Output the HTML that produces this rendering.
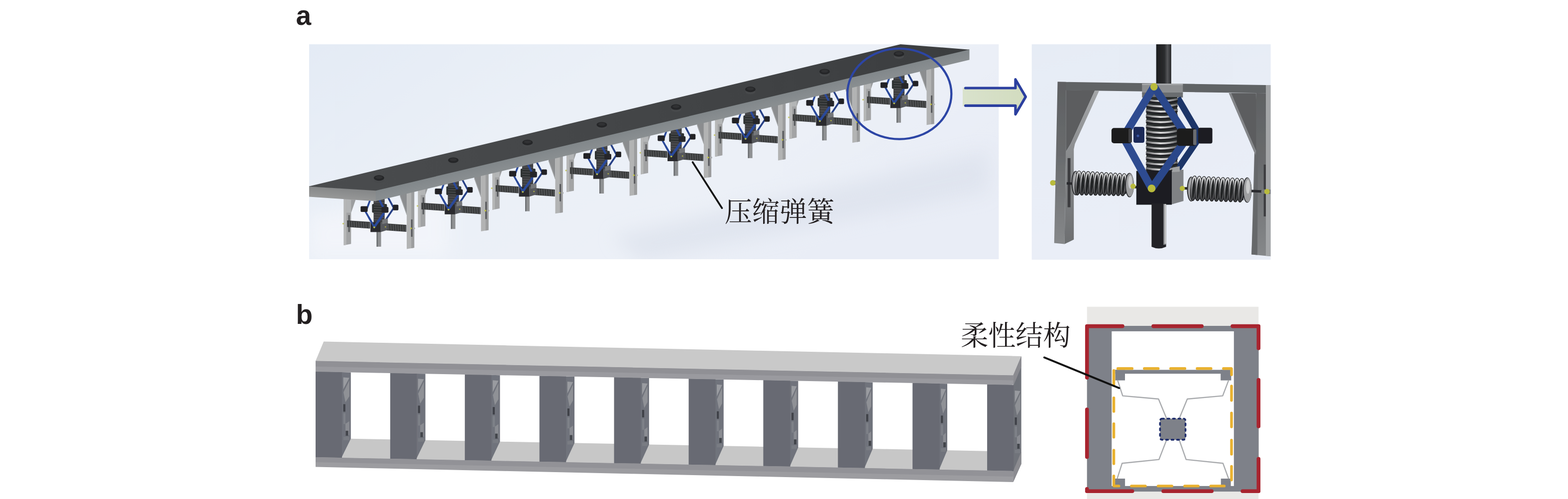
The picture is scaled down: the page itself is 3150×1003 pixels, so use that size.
<!DOCTYPE html>
<html><head><meta charset="utf-8"><title>figure</title>
<style>html,body{margin:0;padding:0;background:#fff}svg{display:block}
.lbl{font-family:"Liberation Sans",sans-serif;font-weight:bold;font-size:55px;fill:#231f20}</style></head>
<body>
<svg width="3150" height="1003" viewBox="0 0 3150 1003">
<defs>
<linearGradient id="abg" x1="0" y1="0" x2="1" y2="0.45"><stop offset="0" stop-color="#e4ebf5"/><stop offset="0.4" stop-color="#ebf0f7"/><stop offset="0.75" stop-color="#ecf0f7"/><stop offset="1" stop-color="#e9edf6"/></linearGradient>
<clipPath id="aclip"><rect x="621" y="89" width="1385.4" height="432"/></clipPath>
<filter id="bl20" x="-20%" y="-50%" width="140%" height="200%"><feGaussianBlur stdDeviation="18"/></filter>
<filter id="bl1"><feGaussianBlur stdDeviation="0.7"/></filter>
<g id="unit"><polygon points="-70.8,20 -56.1,20 -56.1,132.6 -70.8,135.3" fill="#a2a3a4" /><polygon points="-70.8,20 -65.6,20 -65.6,134.4 -70.8,135.3" fill="#b6b7b7" /><polygon points="-65.6,30 -45,30 -47.3,44.6 -56.1,70 -65.6,70" fill="#b3b5b6" /><polygon points="-56.1,44 -47.3,44.6 -56.1,70" fill="#9b9d9f" /><rect x="-61.8" y="74.7" width="3.2" height="34.1" fill="#5a5c5e" /><polygon points="42.3,20 55.7,20 55.7,74.7 42.3,37.5" fill="#8b8d8f" /><polygon points="42.3,37.5 43.6,37.1 55.7,71 55.7,74.7" fill="#a3a5a6" /><polygon points="55.7,20 70.8,20 70.8,140.5 55.7,142.9" fill="#b2b3b3" /><polygon points="64.9,20 70.8,20 70.8,140.5 64.9,141.4" fill="#9c9d9e" /><rect x="64.3" y="83.5" width="3" height="34.8" fill="#55575a" /><polygon points="-64,85.5 -18,88.5 -18,102 -64,98.7" fill="#3b3c3e" /><polygon points="6.6,91 55,94.5 55,108.5 6.6,105" fill="#3b3c3e" /><line x1="-60" y1="87" x2="-59.2" y2="99" stroke="#626466" stroke-width="1.1" /><line x1="-55.2" y1="87.3" x2="-54.4" y2="99.3" stroke="#626466" stroke-width="1.1" /><line x1="-50.4" y1="87.7" x2="-49.6" y2="99.7" stroke="#626466" stroke-width="1.1" /><line x1="-45.6" y1="88" x2="-44.8" y2="100" stroke="#626466" stroke-width="1.1" /><line x1="-40.8" y1="88.3" x2="-40" y2="100.3" stroke="#626466" stroke-width="1.1" /><line x1="-36" y1="88.7" x2="-35.2" y2="100.7" stroke="#626466" stroke-width="1.1" /><line x1="-31.2" y1="89" x2="-30.4" y2="101" stroke="#626466" stroke-width="1.1" /><line x1="-26.4" y1="89.3" x2="-25.6" y2="101.3" stroke="#626466" stroke-width="1.1" /><line x1="-21.6" y1="89.6" x2="-20.8" y2="101.6" stroke="#626466" stroke-width="1.1" /><line x1="14" y1="92.5" x2="14.8" y2="105" stroke="#626466" stroke-width="1.1" /><line x1="18.8" y1="92.9" x2="19.6" y2="105.4" stroke="#626466" stroke-width="1.1" /><line x1="23.6" y1="93.2" x2="24.4" y2="105.7" stroke="#626466" stroke-width="1.1" /><line x1="28.4" y1="93.6" x2="29.2" y2="106.1" stroke="#626466" stroke-width="1.1" /><line x1="33.2" y1="93.9" x2="34" y2="106.4" stroke="#626466" stroke-width="1.1" /><line x1="38" y1="94.3" x2="38.8" y2="106.8" stroke="#626466" stroke-width="1.1" /><line x1="42.8" y1="94.7" x2="43.6" y2="107.2" stroke="#626466" stroke-width="1.1" /><line x1="47.6" y1="95" x2="48.4" y2="107.5" stroke="#626466" stroke-width="1.1" /><line x1="52.4" y1="95.4" x2="53.2" y2="107.9" stroke="#626466" stroke-width="1.1" /><rect x="-4.8" y="106" width="9" height="32.2" fill="#8f9193" /><rect x="-4.8" y="106" width="2.4" height="32.2" fill="#6b6d6f" /><rect x="-10.9" y="25" width="22.2" height="65" fill="#3d3e40" /><rect x="-14" y="52.5" width="30" height="17.5" fill="#2f3032" rx="2"/><line x1="-10.5" y1="44" x2="11" y2="44.8" stroke="#5a5b5d" stroke-width="1" /><line x1="-10.5" y1="49" x2="11" y2="49.8" stroke="#5a5b5d" stroke-width="1" /><line x1="-10.5" y1="54" x2="11" y2="54.8" stroke="#5a5b5d" stroke-width="1" /><line x1="-10.5" y1="59" x2="11" y2="59.8" stroke="#5a5b5d" stroke-width="1" /><line x1="-10.5" y1="64" x2="11" y2="64.8" stroke="#5a5b5d" stroke-width="1" /><line x1="-10.5" y1="69" x2="11" y2="69.8" stroke="#5a5b5d" stroke-width="1" /><line x1="-10.5" y1="74" x2="11" y2="74.8" stroke="#5a5b5d" stroke-width="1" /><line x1="-10.5" y1="79" x2="11" y2="79.8" stroke="#5a5b5d" stroke-width="1" /><line x1="-10.5" y1="84" x2="11" y2="84.8" stroke="#5a5b5d" stroke-width="1" /><polyline points="-1.4,40 9.7,62" fill="none" stroke="#2b4a9a" stroke-width="4" /><polyline points="-15.5,38 -26.7,68.4 -9.6,98.5" fill="none" stroke="#2b4a9a" stroke-width="3.6" stroke-linejoin="round"/><polyline points="16.5,36 29.6,60.5 13.7,84.2" fill="none" stroke="#253f86" stroke-width="3.6" stroke-linejoin="round"/><rect x="-37" y="57" width="14.2" height="11.4" fill="#222325" rx="2"/><rect x="28" y="54" width="11" height="11.2" fill="#222325" rx="2"/><rect x="5" y="58.5" width="14" height="11.5" fill="#27282a" rx="2"/><polygon points="3.4,89 17.7,85.8 17.7,104.5 3.4,108.8" fill="#56585b" /><polygon points="6.5,84 17.7,81.5 17.7,90.5 6.5,93" fill="#75777a" /><rect x="-17.2" y="89" width="20.6" height="19.8" fill="#2b2c2e" /><polyline points="-9.6,98.5 9,72.4" fill="none" stroke="#2b4a9a" stroke-width="4.8" stroke-linecap="round"/><polyline points="-20.5,79.3 -9.6,98.5" fill="none" stroke="#2b4a9a" stroke-width="3.6" stroke-linecap="round"/><circle cx="-71.9" cy="91.9" r="1.6" fill="#bfc043" opacity="0.8"/><circle cx="-9.6" cy="99.3" r="1.8" fill="#bfc043" /><circle cx="12.9" cy="98.5" r="1.4" fill="#bfc043" opacity="0.8"/><circle cx="64.5" cy="101.4" r="1.8" fill="#bfc043" /><rect x="67.5" y="99.6" width="5" height="3.6" fill="#a9abad" rx="1.5"/></g>
<linearGradient id="ptop" gradientUnits="userSpaceOnUse" x1="621" y1="380" x2="1950" y2="95"><stop offset="0" stop-color="#4a4c4e"/><stop offset="0.5" stop-color="#434547"/><stop offset="1" stop-color="#3b3d3f"/></linearGradient>
<linearGradient id="pside" gradientUnits="userSpaceOnUse" x1="1350" y1="241.7" x2="1354.95" y2="262.5"><stop offset="0" stop-color="#81878a"/><stop offset="0.5" stop-color="#868b8e"/><stop offset="1" stop-color="#8a8f91"/></linearGradient>
<linearGradient id="pfront" gradientUnits="userSpaceOnUse" x1="690" y1="380" x2="688" y2="401"><stop offset="0" stop-color="#868889"/><stop offset="1" stop-color="#979898"/></linearGradient>
<linearGradient id="arf" x1="0" y1="0" x2="1" y2="0"><stop offset="0" stop-color="#d9e2cc"/><stop offset="1" stop-color="#d2dcbf"/></linearGradient>
<linearGradient id="rbg" x1="0" y1="0" x2="0.3" y2="1"><stop offset="0" stop-color="#e6ecf5"/><stop offset="1" stop-color="#eaeef7"/></linearGradient>
<clipPath id="rclip"><rect x="2072.7" y="89" width="480" height="433"/></clipPath>
<linearGradient id="rod" x1="0" y1="0" x2="1" y2="0"><stop offset="0" stop-color="#1d1e20"/><stop offset="0.55" stop-color="#2a2b2d"/><stop offset="0.75" stop-color="#55575a"/><stop offset="1" stop-color="#242527"/></linearGradient>
<linearGradient id="legf" x1="0" y1="0" x2="0" y2="1"><stop offset="0" stop-color="#5e6062"/><stop offset="0.45" stop-color="#696b6d"/><stop offset="1" stop-color="#86888a"/></linearGradient>
<linearGradient id="legi" x1="0" y1="0" x2="0" y2="1"><stop offset="0" stop-color="#a3a5a7"/><stop offset="0.4" stop-color="#8b8d8f"/><stop offset="1" stop-color="#6c6e70"/></linearGradient>
<linearGradient id="coil" gradientUnits="userSpaceOnUse" x1="2302" y1="0" x2="2366" y2="0"><stop offset="0" stop-color="#6a6b6d"/><stop offset="0.45" stop-color="#dcdcdd"/><stop offset="0.7" stop-color="#b9babb"/><stop offset="1" stop-color="#5c5d5f"/></linearGradient>
<linearGradient id="hcoil" x1="0" y1="0" x2="0" y2="1"><stop offset="0" stop-color="#d6d7d8"/><stop offset="0.3" stop-color="#a3a4a6"/><stop offset="0.6" stop-color="#6f7072"/><stop offset="1" stop-color="#3a3b3d"/></linearGradient>
<linearGradient id="rail" x1="0" y1="0" x2="0" y2="1"><stop offset="0" stop-color="#8d8d92"/><stop offset="1" stop-color="#9d9da1"/></linearGradient>
<linearGradient id="brail" x1="0" y1="0" x2="0" y2="1"><stop offset="0" stop-color="#8f8f94"/><stop offset="0.55" stop-color="#97979b"/><stop offset="1" stop-color="#a3a3a6"/></linearGradient>
</defs>
<text class="lbl" x="594.6" y="50.3">a</text>
<text class="lbl" x="594.6" y="651">b</text>
<rect x="621" y="89" width="1385.4" height="432" fill="url(#abg)" />
<g clip-path="url(#aclip)">
<polygon points="1230,475 1985,305 1985,385 1290,525" fill="#d9dfea" filter="url(#bl20)" opacity="0.6"/>
<polygon points="621,430 900,400 900,520 621,520" fill="#f4f6fb" filter="url(#bl20)" opacity="0.8"/>
<g filter="url(#bl1)">
<use href="#unit" x="1805.8" y="108.4"/>
<use href="#unit" x="1656.6" y="144"/>
<use href="#unit" x="1507.4" y="179.6"/>
<use href="#unit" x="1358.2" y="215.2"/>
<use href="#unit" x="1209" y="250.8"/>
<use href="#unit" x="1059.8" y="286.4"/>
<use href="#unit" x="910.6" y="322"/>
<use href="#unit" x="761.4" y="357.6"/>
</g>
<polygon points="754,382.5 1947.5,98.9 1947.5,120.2 754,404.4" fill="url(#pside)" />
<polygon points="610,373.8 621,374.5 754.8,382.6 754.8,404.4 621,395.6 610,394.9" fill="url(#pfront)" />
<polygon points="610,377 621,374.4 1809,89 1947.3,99.7 754.8,383.2 621,375.1 610,375" fill="url(#ptop)" />
<ellipse cx="761.4" cy="362.6" rx="10" ry="5" fill="#47494b" />
<ellipse cx="761.4" cy="357.6" rx="10.5" ry="5.6" fill="#252628" />
<ellipse cx="761.4" cy="356.4" rx="7" ry="3" fill="#303133" />
<ellipse cx="910.6" cy="327" rx="10" ry="5" fill="#47494b" />
<ellipse cx="910.6" cy="322" rx="10.5" ry="5.6" fill="#252628" />
<ellipse cx="910.6" cy="320.8" rx="7" ry="3" fill="#303133" />
<ellipse cx="1059.8" cy="291.4" rx="10" ry="5" fill="#47494b" />
<ellipse cx="1059.8" cy="286.4" rx="10.5" ry="5.6" fill="#252628" />
<ellipse cx="1059.8" cy="285.2" rx="7" ry="3" fill="#303133" />
<ellipse cx="1209" cy="255.8" rx="10" ry="5" fill="#47494b" />
<ellipse cx="1209" cy="250.8" rx="10.5" ry="5.6" fill="#252628" />
<ellipse cx="1209" cy="249.6" rx="7" ry="3" fill="#303133" />
<ellipse cx="1358.2" cy="220.2" rx="10" ry="5" fill="#47494b" />
<ellipse cx="1358.2" cy="215.2" rx="10.5" ry="5.6" fill="#252628" />
<ellipse cx="1358.2" cy="214" rx="7" ry="3" fill="#303133" />
<ellipse cx="1507.4" cy="184.6" rx="10" ry="5" fill="#47494b" />
<ellipse cx="1507.4" cy="179.6" rx="10.5" ry="5.6" fill="#252628" />
<ellipse cx="1507.4" cy="178.4" rx="7" ry="3" fill="#303133" />
<ellipse cx="1656.6" cy="149" rx="10" ry="5" fill="#47494b" />
<ellipse cx="1656.6" cy="144" rx="10.5" ry="5.6" fill="#252628" />
<ellipse cx="1656.6" cy="142.8" rx="7" ry="3" fill="#303133" />
<ellipse cx="1805.8" cy="113.4" rx="10" ry="5" fill="#47494b" />
<ellipse cx="1805.8" cy="108.4" rx="10.5" ry="5.6" fill="#252628" />
<ellipse cx="1805.8" cy="107.2" rx="7" ry="3" fill="#303133" />
</g>
<ellipse cx="1806.8" cy="188.7" rx="104.5" ry="91" fill="none" stroke="#2c45a5" stroke-width="4.3"/>
<path d="M1934 176 H2040 V159.7 L2060.5 194.6 L2040 229.8 V213.6 H1934 Z" fill="url(#arf)"/>
<path d="M1939.5 177 H2040 V159.7 L2060.5 194.6 L2040 229.8 V212.3 H1939.5" fill="none" stroke="#2b3f9f" stroke-width="5.2" stroke-linejoin="round" stroke-linecap="round"/>
<line x1="1391.5" y1="326" x2="1450.4" y2="418.3" stroke="#111" stroke-width="3.6" stroke-linecap="round"/>
<text x="1455.8" y="444.6" font-size="55.2" fill="#231f20" style="font-family:'Liberation Serif','Noto Serif CJK SC',serif">压缩弹簧</text>
<rect x="2072.7" y="89" width="480" height="433" fill="url(#rbg)" />
<g clip-path="url(#rclip)"><g filter="url(#bl1)">
<rect x="2322.7" y="80" width="30.2" height="90" fill="url(#rod)" />
<polygon points="2124.6,164.5 2543,171 2543,187.3 2522.6,187 2141.3,181.5" fill="#616365" />
<polygon points="2124.6,164.5 2141.3,164.8 2141.3,300 2138.7,490.5 2117.8,488.4" fill="url(#legf)" />
<polygon points="2141.3,181 2199.5,182 2151,289 2142,304 2141.3,304" fill="#5b5d5f" />
<polygon points="2199.5,182 2208.2,182.2 2159.5,289 2157.2,300 2157.2,481.5 2138.7,490.5 2141,304 2142,304 2151,289" fill="url(#legi)" />
<rect x="2144.7" y="317.8" width="5.8" height="98.8" fill="#3d3e40" />
<polygon points="2523.4,187 2543,187.3 2543,171 2560,171 2560,516 2514.2,511.6" fill="url(#legf)" />
<polygon points="2523.4,300 2527,300 2526,512.5 2514.2,511.6 2522.7,312" fill="#66686a" />
<polygon points="2543,171 2560,171 2560,516 2543,514" fill="#a3a5a7" />
<polygon points="2468.7,187 2523.4,187.3 2523.4,300 2522.5,312.3" fill="#5b5d5f" />
<polygon points="2468.7,187 2473.5,187 2523.4,303 2522.5,312.3" fill="#85878a" />
<rect x="2538.7" y="330.8" width="4.3" height="104.2" fill="#3d3e40" />
<rect x="2294.3" y="168" width="82" height="20.5" fill="#8c8e90" />
<rect x="2294.3" y="186" width="82" height="10" fill="#6b6d6f" />
<rect x="2294.3" y="168" width="82" height="3" fill="#a5a7a9" />
<polyline points="2366,197 2411,274 2364,343" fill="none" stroke="#1e3468" stroke-width="13" stroke-linejoin="miter"/>
<line x1="2115" y1="367.3" x2="2122" y2="367.6" stroke="#77797b" stroke-width="9" stroke-linecap="round"/>
<line x1="2143" y1="368.5" x2="2284" y2="376.2" stroke="#2a2b2d" stroke-width="5" />
<line x1="2374" y1="378.2" x2="2540" y2="385" stroke="#2a2b2d" stroke-width="5" />
<line x1="2538" y1="385" x2="2552" y2="385.4" stroke="#77797b" stroke-width="9" stroke-linecap="round"/>
<rect x="2303" y="195" width="62" height="150" fill="#2c2d2f" />
<path d="M2302 200 Q2334 207 2366 199" fill="none" stroke="url(#coil)" stroke-width="3.8"/>
<path d="M2302 203.6 Q2334 210.6 2366 202.6" fill="none" stroke="#1e1f21" stroke-width="2.2"/>
<path d="M2302 210.6 Q2334 217.6 2366 209.6" fill="none" stroke="url(#coil)" stroke-width="3.8"/>
<path d="M2302 214.2 Q2334 221.2 2366 213.2" fill="none" stroke="#1e1f21" stroke-width="2.2"/>
<path d="M2302 221.2 Q2334 228.2 2366 220.2" fill="none" stroke="url(#coil)" stroke-width="3.8"/>
<path d="M2302 224.8 Q2334 231.8 2366 223.8" fill="none" stroke="#1e1f21" stroke-width="2.2"/>
<path d="M2302 231.8 Q2334 238.8 2366 230.8" fill="none" stroke="url(#coil)" stroke-width="3.8"/>
<path d="M2302 235.4 Q2334 242.4 2366 234.4" fill="none" stroke="#1e1f21" stroke-width="2.2"/>
<path d="M2302 242.4 Q2334 249.4 2366 241.4" fill="none" stroke="url(#coil)" stroke-width="3.8"/>
<path d="M2302 246 Q2334 253 2366 245" fill="none" stroke="#1e1f21" stroke-width="2.2"/>
<path d="M2302 253 Q2334 260 2366 252" fill="none" stroke="url(#coil)" stroke-width="3.8"/>
<path d="M2302 256.6 Q2334 263.6 2366 255.6" fill="none" stroke="#1e1f21" stroke-width="2.2"/>
<path d="M2302 263.6 Q2334 270.6 2366 262.6" fill="none" stroke="url(#coil)" stroke-width="3.8"/>
<path d="M2302 267.2 Q2334 274.2 2366 266.2" fill="none" stroke="#1e1f21" stroke-width="2.2"/>
<path d="M2302 274.2 Q2334 281.2 2366 273.2" fill="none" stroke="url(#coil)" stroke-width="3.8"/>
<path d="M2302 277.8 Q2334 284.8 2366 276.8" fill="none" stroke="#1e1f21" stroke-width="2.2"/>
<path d="M2302 284.8 Q2334 291.8 2366 283.8" fill="none" stroke="url(#coil)" stroke-width="3.8"/>
<path d="M2302 288.4 Q2334 295.4 2366 287.4" fill="none" stroke="#1e1f21" stroke-width="2.2"/>
<path d="M2302 295.4 Q2334 302.4 2366 294.4" fill="none" stroke="url(#coil)" stroke-width="3.8"/>
<path d="M2302 299 Q2334 306 2366 298" fill="none" stroke="#1e1f21" stroke-width="2.2"/>
<path d="M2302 306 Q2334 313 2366 305" fill="none" stroke="url(#coil)" stroke-width="3.8"/>
<path d="M2302 309.6 Q2334 316.6 2366 308.6" fill="none" stroke="#1e1f21" stroke-width="2.2"/>
<path d="M2302 316.6 Q2334 323.6 2366 315.6" fill="none" stroke="url(#coil)" stroke-width="3.8"/>
<path d="M2302 320.2 Q2334 327.2 2366 319.2" fill="none" stroke="#1e1f21" stroke-width="2.2"/>
<path d="M2302 327.2 Q2334 334.2 2366 326.2" fill="none" stroke="url(#coil)" stroke-width="3.8"/>
<path d="M2302 330.8 Q2334 337.8 2366 329.8" fill="none" stroke="#1e1f21" stroke-width="2.2"/>
<path d="M2302 337.8 Q2334 344.8 2366 336.8" fill="none" stroke="url(#coil)" stroke-width="3.8"/>
<path d="M2302 341.4 Q2334 348.4 2366 340.4" fill="none" stroke="#1e1f21" stroke-width="2.2"/>
<rect x="2407" y="256.7" width="28.6" height="31.7" fill="#1b1d24" rx="4"/>
<rect x="2277" y="255" width="22" height="32" fill="#1b2a58" rx="4"/>
<circle cx="2286" cy="273" r="2.6" fill="#3a55a0" />
<ellipse cx="2161" cy="368" rx="8.5" ry="24.5" fill="#2a2b2d" /><ellipse cx="2161.8" cy="368" rx="7.3" ry="23.3" fill="#9d9ea0" /><ellipse cx="2162.6" cy="361.9" rx="3.8" ry="13.5" fill="#c9cacb" />
<polygon points="2162,347.3 2262,352.8 2262,389.8 2162,388.3" fill="#242527" /><ellipse cx="2166" cy="367.8" rx="4" ry="22.3" fill="none" stroke="#1c1d1f" stroke-width="5.4" transform="rotate(5 2166 367.8)"/><ellipse cx="2166" cy="367.8" rx="4" ry="22.3" fill="none" stroke="url(#hcoil)" stroke-width="3" transform="rotate(5 2166 367.8)"/><ellipse cx="2175.1" cy="368.2" rx="4" ry="22.1" fill="none" stroke="#1c1d1f" stroke-width="5.4" transform="rotate(5 2175.1 368.2)"/><ellipse cx="2175.1" cy="368.2" rx="4" ry="22.1" fill="none" stroke="url(#hcoil)" stroke-width="3" transform="rotate(5 2175.1 368.2)"/><ellipse cx="2184.2" cy="368.5" rx="4" ry="21.9" fill="none" stroke="#1c1d1f" stroke-width="5.4" transform="rotate(5 2184.2 368.5)"/><ellipse cx="2184.2" cy="368.5" rx="4" ry="21.9" fill="none" stroke="url(#hcoil)" stroke-width="3" transform="rotate(5 2184.2 368.5)"/><ellipse cx="2193.3" cy="368.9" rx="4" ry="21.7" fill="none" stroke="#1c1d1f" stroke-width="5.4" transform="rotate(5 2193.3 368.9)"/><ellipse cx="2193.3" cy="368.9" rx="4" ry="21.7" fill="none" stroke="url(#hcoil)" stroke-width="3" transform="rotate(5 2193.3 368.9)"/><ellipse cx="2202.4" cy="369.2" rx="4" ry="21.5" fill="none" stroke="#1c1d1f" stroke-width="5.4" transform="rotate(5 2202.4 369.2)"/><ellipse cx="2202.4" cy="369.2" rx="4" ry="21.5" fill="none" stroke="url(#hcoil)" stroke-width="3" transform="rotate(5 2202.4 369.2)"/><ellipse cx="2211.5" cy="369.6" rx="4" ry="21.3" fill="none" stroke="#1c1d1f" stroke-width="5.4" transform="rotate(5 2211.5 369.6)"/><ellipse cx="2211.5" cy="369.6" rx="4" ry="21.3" fill="none" stroke="url(#hcoil)" stroke-width="3" transform="rotate(5 2211.5 369.6)"/><ellipse cx="2220.6" cy="369.9" rx="4" ry="21.1" fill="none" stroke="#1c1d1f" stroke-width="5.4" transform="rotate(5 2220.6 369.9)"/><ellipse cx="2220.6" cy="369.9" rx="4" ry="21.1" fill="none" stroke="url(#hcoil)" stroke-width="3" transform="rotate(5 2220.6 369.9)"/><ellipse cx="2229.7" cy="370.2" rx="4" ry="20.9" fill="none" stroke="#1c1d1f" stroke-width="5.4" transform="rotate(5 2229.7 370.2)"/><ellipse cx="2229.7" cy="370.2" rx="4" ry="20.9" fill="none" stroke="url(#hcoil)" stroke-width="3" transform="rotate(5 2229.7 370.2)"/><ellipse cx="2238.8" cy="370.6" rx="4" ry="20.7" fill="none" stroke="#1c1d1f" stroke-width="5.4" transform="rotate(5 2238.8 370.6)"/><ellipse cx="2238.8" cy="370.6" rx="4" ry="20.7" fill="none" stroke="url(#hcoil)" stroke-width="3" transform="rotate(5 2238.8 370.6)"/><ellipse cx="2247.9" cy="370.9" rx="4" ry="20.5" fill="none" stroke="#1c1d1f" stroke-width="5.4" transform="rotate(5 2247.9 370.9)"/><ellipse cx="2247.9" cy="370.9" rx="4" ry="20.5" fill="none" stroke="url(#hcoil)" stroke-width="3" transform="rotate(5 2247.9 370.9)"/><ellipse cx="2257" cy="371.3" rx="4" ry="20.3" fill="none" stroke="#1c1d1f" stroke-width="5.4" transform="rotate(5 2257 371.3)"/><ellipse cx="2257" cy="371.3" rx="4" ry="20.3" fill="none" stroke="url(#hcoil)" stroke-width="3" transform="rotate(5 2257 371.3)"/>
<ellipse cx="2269" cy="372" rx="9" ry="24.5" fill="#2a2b2d" /><ellipse cx="2269.8" cy="372" rx="7.8" ry="23.3" fill="#9d9ea0" /><ellipse cx="2270.6" cy="365.9" rx="4" ry="13.5" fill="#c9cacb" />
<ellipse cx="2393" cy="380" rx="8.5" ry="25" fill="#2a2b2d" /><ellipse cx="2393.8" cy="380" rx="7.3" ry="23.8" fill="#9d9ea0" /><ellipse cx="2394.6" cy="373.8" rx="3.8" ry="13.8" fill="#c9cacb" />
<polygon points="2394,357.5 2498,362.5 2498,402.5 2394,399.5" fill="#242527" /><ellipse cx="2398" cy="378.5" rx="4" ry="22.8" fill="none" stroke="#1c1d1f" stroke-width="5.4" transform="rotate(5 2398 378.5)"/><ellipse cx="2398" cy="378.5" rx="4" ry="22.8" fill="none" stroke="url(#hcoil)" stroke-width="3" transform="rotate(5 2398 378.5)"/><ellipse cx="2407.5" cy="378.9" rx="4" ry="22.7" fill="none" stroke="#1c1d1f" stroke-width="5.4" transform="rotate(5 2407.5 378.9)"/><ellipse cx="2407.5" cy="378.9" rx="4" ry="22.7" fill="none" stroke="url(#hcoil)" stroke-width="3" transform="rotate(5 2407.5 378.9)"/><ellipse cx="2417" cy="379.3" rx="4" ry="22.6" fill="none" stroke="#1c1d1f" stroke-width="5.4" transform="rotate(5 2417 379.3)"/><ellipse cx="2417" cy="379.3" rx="4" ry="22.6" fill="none" stroke="url(#hcoil)" stroke-width="3" transform="rotate(5 2417 379.3)"/><ellipse cx="2426.5" cy="379.7" rx="4" ry="22.5" fill="none" stroke="#1c1d1f" stroke-width="5.4" transform="rotate(5 2426.5 379.7)"/><ellipse cx="2426.5" cy="379.7" rx="4" ry="22.5" fill="none" stroke="url(#hcoil)" stroke-width="3" transform="rotate(5 2426.5 379.7)"/><ellipse cx="2436" cy="380.1" rx="4" ry="22.4" fill="none" stroke="#1c1d1f" stroke-width="5.4" transform="rotate(5 2436 380.1)"/><ellipse cx="2436" cy="380.1" rx="4" ry="22.4" fill="none" stroke="url(#hcoil)" stroke-width="3" transform="rotate(5 2436 380.1)"/><ellipse cx="2445.5" cy="380.5" rx="4" ry="22.3" fill="none" stroke="#1c1d1f" stroke-width="5.4" transform="rotate(5 2445.5 380.5)"/><ellipse cx="2445.5" cy="380.5" rx="4" ry="22.3" fill="none" stroke="url(#hcoil)" stroke-width="3" transform="rotate(5 2445.5 380.5)"/><ellipse cx="2455" cy="380.9" rx="4" ry="22.2" fill="none" stroke="#1c1d1f" stroke-width="5.4" transform="rotate(5 2455 380.9)"/><ellipse cx="2455" cy="380.9" rx="4" ry="22.2" fill="none" stroke="url(#hcoil)" stroke-width="3" transform="rotate(5 2455 380.9)"/><ellipse cx="2464.5" cy="381.3" rx="4" ry="22.1" fill="none" stroke="#1c1d1f" stroke-width="5.4" transform="rotate(5 2464.5 381.3)"/><ellipse cx="2464.5" cy="381.3" rx="4" ry="22.1" fill="none" stroke="url(#hcoil)" stroke-width="3" transform="rotate(5 2464.5 381.3)"/><ellipse cx="2474" cy="381.7" rx="4" ry="22" fill="none" stroke="#1c1d1f" stroke-width="5.4" transform="rotate(5 2474 381.7)"/><ellipse cx="2474" cy="381.7" rx="4" ry="22" fill="none" stroke="url(#hcoil)" stroke-width="3" transform="rotate(5 2474 381.7)"/><ellipse cx="2483.5" cy="382.1" rx="4" ry="21.9" fill="none" stroke="#1c1d1f" stroke-width="5.4" transform="rotate(5 2483.5 382.1)"/><ellipse cx="2483.5" cy="382.1" rx="4" ry="21.9" fill="none" stroke="url(#hcoil)" stroke-width="3" transform="rotate(5 2483.5 382.1)"/><ellipse cx="2493" cy="382.5" rx="4" ry="21.8" fill="none" stroke="#1c1d1f" stroke-width="5.4" transform="rotate(5 2493 382.5)"/><ellipse cx="2493" cy="382.5" rx="4" ry="21.8" fill="none" stroke="url(#hcoil)" stroke-width="3" transform="rotate(5 2493 382.5)"/>
<ellipse cx="2505.5" cy="382" rx="9" ry="25.5" fill="#2a2b2d" /><ellipse cx="2506.3" cy="382" rx="7.8" ry="24.3" fill="#9d9ea0" /><ellipse cx="2507.1" cy="375.6" rx="4" ry="14" fill="#c9cacb" />
<polygon points="2353,343 2377.5,341 2377.5,404 2353,411" fill="#808285" />
<polygon points="2355,337 2370,334 2370,345 2355,346" fill="#a0a2a4" />
<rect x="2282.8" y="343.5" width="71.2" height="68" fill="#1d1e20" />
<path d="M2313.4 409 H2342.6 V496 Q2328 503 2313.4 496 Z" fill="#232426"/>
<rect x="2337" y="410" width="5.6" height="82" fill="#7d7f82" />
<rect x="2339.5" y="410" width="3.1" height="80" fill="#c9cacb" />
<polyline points="2318.3,174.3 2256.6,275.7 2313.5,378.8" fill="none" stroke="#2e4c90" stroke-width="15.5" stroke-linejoin="miter"/>
<polyline points="2318.3,174.3 2385.3,276.2 2313.5,378.8" fill="none" stroke="#2b478a" stroke-width="15.5" stroke-linejoin="miter"/>
<rect x="2232.9" y="257.3" width="41" height="30.7" fill="#1c1d1f" rx="5"/>
<rect x="2364.3" y="258.3" width="39" height="34.9" fill="#1c1d1f" rx="5"/>
<rect x="2397" y="260" width="6.6" height="31.5" fill="#6a6c6e" rx="2"/>
<rect x="2267" y="259" width="6.9" height="27.5" fill="#3d3e40" rx="2"/>
<circle cx="2318.3" cy="174.5" r="7.4" fill="#b9bb3d" />
<circle cx="2313.5" cy="378.8" r="7.8" fill="#b9bb3d" />
<circle cx="2115" cy="367.5" r="5.5" fill="#b9bb3d" />
<circle cx="2276.2" cy="374.2" r="5.2" fill="#b9bb3d" />
<circle cx="2375.2" cy="378.6" r="5.2" fill="#b9bb3d" />
<circle cx="2545.4" cy="385.1" r="5.5" fill="#b9bb3d" />
</g></g>
<g filter="url(#bl1)">
<polygon points="634,725.6 650.3,686.6 2051.7,715.9 2035.5,754.5" fill="#c9c9c9" />
<polygon points="690,881.5 2049,907.9 2035.5,946.8 674,919.8" fill="#c7c7c7" />
<polygon points="2035.5,754.5 2051.7,715.9 2051.7,932.4 2035.5,969" fill="#70737a" />
<polygon points="2035.5,754.5 2051.7,715.9 2051.7,737 2036.5,773.8" fill="#8b8b90" />
<polygon points="2035.5,946.8 2051.7,908 2051.7,932.4 2035.5,969" fill="#8b8b90" />
<polygon points="2038.6,785 2049.7,786 2038.6,809" fill="#999ba0" /><polygon points="2049.7,791 2049.7,823 2043,835 2039,815" fill="#8f9196" /><rect x="2038.6" y="839" width="4.2" height="15" fill="#404248" /><rect x="2038.6" y="857" width="4.4" height="22" fill="#7e8188" /><polygon points="2043,878 2049.7,873 2049.7,901 2043,901" fill="#8a8c92" /><rect x="2043.4" y="892" width="5.2" height="10" fill="#43454b" /><polygon points="2038.6,904 2049.7,904 2049.7,911 2038.6,911" fill="#797c83" />
<polygon points="686,748.1 704.8,748.4 704.8,881.8 686,920.1" fill="#70737b" />
<polygon points="689.6,758.4 701.8,759.4 689.6,782.4" fill="#999ba0" /><polygon points="701.8,764.4 701.8,796.4 694,808.4 690,788.4" fill="#8f9196" /><rect x="689.6" y="812.4" width="4.2" height="15" fill="#404248" /><rect x="689.6" y="830.4" width="4.4" height="22" fill="#7e8188" /><polygon points="694,851.8 701.8,846.8 701.8,874.8 694,874.8" fill="#8a8c92" /><rect x="694.4" y="865.8" width="5.2" height="10" fill="#43454b" /><polygon points="689.6,877.8 701.8,877.8 701.8,884.8 689.6,884.8" fill="#797c83" />
<polygon points="634,746.6 687,747.6 687,920.6 634,919.5" fill="#686b73" />
<polygon points="836.1,751 854.6,751.3 854.6,884.7 836.1,923" fill="#70737b" />
<polygon points="839.7,761.3 851.6,762.3 839.7,785.3" fill="#999ba0" /><polygon points="851.6,767.3 851.6,799.3 844.1,811.3 840.1,791.3" fill="#8f9196" /><rect x="839.7" y="815.3" width="4.2" height="15" fill="#404248" /><rect x="839.7" y="833.3" width="4.4" height="22" fill="#7e8188" /><polygon points="844.1,854.7 851.6,849.7 851.6,877.7 844.1,877.7" fill="#8a8c92" /><rect x="844.5" y="868.7" width="5.2" height="10" fill="#43454b" /><polygon points="839.7,880.7 851.6,880.7 851.6,887.7 839.7,887.7" fill="#797c83" />
<polygon points="783.9,749.5 837.1,750.5 837.1,923.5 783.9,922.5" fill="#686b73" />
<polygon points="986.2,753.8 1004.4,754.2 1004.4,887.6 986.2,926" fill="#70737b" />
<polygon points="989.8,764.2 1001.4,765.2 989.8,788.2" fill="#999ba0" /><polygon points="1001.4,770.2 1001.4,802.2 994.2,814.2 990.2,794.2" fill="#8f9196" /><rect x="989.8" y="818.2" width="4.2" height="15" fill="#404248" /><rect x="989.8" y="836.2" width="4.4" height="22" fill="#7e8188" /><polygon points="994.2,857.6 1001.4,852.6 1001.4,880.6 994.2,880.6" fill="#8a8c92" /><rect x="994.6" y="871.6" width="5.2" height="10" fill="#43454b" /><polygon points="989.8,883.6 1001.4,883.6 1001.4,890.6 989.8,890.6" fill="#797c83" />
<polygon points="933.8,752.3 987.2,753.3 987.2,926.5 933.8,925.4" fill="#686b73" />
<polygon points="1136.2,756.7 1154.1,757 1154.1,890.5 1136.2,929" fill="#70737b" />
<polygon points="1139.8,767 1151.1,768 1139.8,791" fill="#999ba0" /><polygon points="1151.1,773 1151.1,805 1144.2,817 1140.2,797" fill="#8f9196" /><rect x="1139.8" y="821" width="4.2" height="15" fill="#404248" /><rect x="1139.8" y="839" width="4.4" height="22" fill="#7e8188" /><polygon points="1144.2,860.5 1151.1,855.5 1151.1,883.5 1144.2,883.5" fill="#8a8c92" /><rect x="1144.6" y="874.5" width="5.2" height="10" fill="#43454b" /><polygon points="1139.8,886.5 1151.1,886.5 1151.1,893.5 1139.8,893.5" fill="#797c83" />
<polygon points="1083.7,755.2 1137.2,756.2 1137.2,929.5 1083.7,928.4" fill="#686b73" />
<polygon points="1286.3,759.5 1303.9,759.9 1303.9,893.4 1286.3,932" fill="#70737b" />
<polygon points="1289.9,769.9 1300.9,770.9 1289.9,793.9" fill="#999ba0" /><polygon points="1300.9,775.9 1300.9,807.9 1294.3,819.9 1290.3,799.9" fill="#8f9196" /><rect x="1289.9" y="823.9" width="4.2" height="15" fill="#404248" /><rect x="1289.9" y="841.9" width="4.4" height="22" fill="#7e8188" /><polygon points="1294.3,863.4 1300.9,858.4 1300.9,886.4 1294.3,886.4" fill="#8a8c92" /><rect x="1294.7" y="877.4" width="5.2" height="10" fill="#43454b" /><polygon points="1289.9,889.4 1300.9,889.4 1300.9,896.4 1289.9,896.4" fill="#797c83" />
<polygon points="1233.6,758 1287.3,759 1287.3,932.5 1233.6,931.4" fill="#686b73" />
<polygon points="1436.4,762.4 1453.7,762.7 1453.7,896.3 1436.4,934.9" fill="#70737b" />
<polygon points="1440,772.7 1450.7,773.7 1440,796.7" fill="#999ba0" /><polygon points="1450.7,778.7 1450.7,810.7 1444.4,822.7 1440.4,802.7" fill="#8f9196" /><rect x="1440" y="826.7" width="4.2" height="15" fill="#404248" /><rect x="1440" y="844.7" width="4.4" height="22" fill="#7e8188" /><polygon points="1444.4,866.3 1450.7,861.3 1450.7,889.3 1444.4,889.3" fill="#8a8c92" /><rect x="1444.8" y="880.3" width="5.2" height="10" fill="#43454b" /><polygon points="1440,892.3 1450.7,892.3 1450.7,899.3 1440,899.3" fill="#797c83" />
<polygon points="1383.5,760.9 1437.4,761.9 1437.4,935.4 1383.5,934.4" fill="#686b73" />
<polygon points="1586.5,765.3 1603.5,765.6 1603.5,899.2 1586.5,937.9" fill="#70737b" />
<polygon points="1590.1,775.6 1600.5,776.6 1590.1,799.6" fill="#999ba0" /><polygon points="1600.5,781.6 1600.5,813.6 1594.5,825.6 1590.5,805.6" fill="#8f9196" /><rect x="1590.1" y="829.6" width="4.2" height="15" fill="#404248" /><rect x="1590.1" y="847.6" width="4.4" height="22" fill="#7e8188" /><polygon points="1594.5,869.2 1600.5,864.2 1600.5,892.2 1594.5,892.2" fill="#8a8c92" /><rect x="1594.9" y="883.2" width="5.2" height="10" fill="#43454b" /><polygon points="1590.1,895.2 1600.5,895.2 1600.5,902.2 1590.1,902.2" fill="#797c83" />
<polygon points="1533.4,763.7 1587.5,764.8 1587.5,938.4 1533.4,937.3" fill="#686b73" />
<polygon points="1736.5,768.1 1753.2,768.4 1753.2,902.1 1736.5,940.9" fill="#70737b" />
<polygon points="1740.1,778.4 1750.2,779.4 1740.1,802.4" fill="#999ba0" /><polygon points="1750.2,784.4 1750.2,816.4 1744.5,828.4 1740.5,808.4" fill="#8f9196" /><rect x="1740.1" y="832.4" width="4.2" height="15" fill="#404248" /><rect x="1740.1" y="850.4" width="4.4" height="22" fill="#7e8188" /><polygon points="1744.5,872.1 1750.2,867.1 1750.2,895.1 1744.5,895.1" fill="#8a8c92" /><rect x="1744.9" y="886.1" width="5.2" height="10" fill="#43454b" /><polygon points="1740.1,898.1 1750.2,898.1 1750.2,905.1 1740.1,905.1" fill="#797c83" />
<polygon points="1683.3,766.6 1737.5,767.6 1737.5,941.4 1683.3,940.3" fill="#686b73" />
<polygon points="1886.6,771 1903,771.3 1903,905 1886.6,943.9" fill="#70737b" />
<polygon points="1890.2,781.3 1900,782.3 1890.2,805.3" fill="#999ba0" /><polygon points="1900,787.3 1900,819.3 1894.6,831.3 1890.6,811.3" fill="#8f9196" /><rect x="1890.2" y="835.3" width="4.2" height="15" fill="#404248" /><rect x="1890.2" y="853.3" width="4.4" height="22" fill="#7e8188" /><polygon points="1894.6,875 1900,870 1900,898 1894.6,898" fill="#8a8c92" /><rect x="1895" y="889" width="5.2" height="10" fill="#43454b" /><polygon points="1890.2,901 1900,901 1900,908 1890.2,908" fill="#797c83" />
<polygon points="1833.2,769.4 1887.6,770.5 1887.6,944.4 1833.2,943.3" fill="#686b73" />
<polygon points="1983.1,772.3 2036.3,773.3 2036.3,947.3 1983.1,946.3" fill="#686b73" />
<polygon points="634,725.6 2035.5,754.5 2036.5,773.8 634,747.1" fill="#9a9a9f" />
<polygon points="634,725.6 2035.5,754.5 2036,764.5 634,736.8" fill="#909095" />
<polygon points="634,919 2035.5,946.8 2035.5,969 634,938.5" fill="#9c9ca0" />
<polygon points="634,919 2035.5,946.8 2035.5,958 634,929" fill="#929297" />
</g>
<rect x="2183.7" y="616.6" width="344.6" height="386.4" fill="#e9e8e6" />
<rect x="2183.7" y="655" width="344.9" height="333.1" fill="#7e8189" />
<rect x="2233.3" y="665.9" width="245.5" height="311" fill="#ffffff" />
<rect x="2240.5" y="743.4" width="232.9" height="7.8" fill="#7e8189" />
<rect x="2240.5" y="743.4" width="19.5" height="21.2" fill="#7e8189" />
<rect x="2452.2" y="743.4" width="21.2" height="21.2" fill="#7e8189" />
<rect x="2240" y="962" width="20.1" height="15.8" fill="#7e8189" />
<rect x="2452.7" y="962" width="19.9" height="15.8" fill="#7e8189" />
<polyline points="2245.3,764.6 2255.4,795.6 2327.4,802 2343.7,841.5" fill="none" stroke="#a9abae" stroke-width="2.4" stroke-linejoin="round"/>
<polyline points="2468.1,764.6 2456.3,795.6 2385.2,802 2368.9,841.5" fill="none" stroke="#a9abae" stroke-width="2.4" stroke-linejoin="round"/>
<polyline points="2343.7,883.9 2328.3,923.6 2254.2,931.3 2244.4,962" fill="none" stroke="#a9abae" stroke-width="2.4" stroke-linejoin="round"/>
<polyline points="2368.9,883.9 2382.8,923.6 2456.9,931.3 2468.1,962" fill="none" stroke="#a9abae" stroke-width="2.4" stroke-linejoin="round"/>
<rect x="2330.4" y="841.5" width="51.2" height="42.4" rx="4" fill="#7e8189" stroke="#1f2d6b" stroke-width="3.6" stroke-dasharray="3.9 7.1" stroke-linecap="round"/>
<line x1="2245.6" y1="740.7" x2="2274.4" y2="740.7" stroke="#e9b12f" stroke-width="5.4" stroke-linecap="round"/><line x1="2298.8" y1="740.7" x2="2326.8" y2="740.7" stroke="#e9b12f" stroke-width="5.4" stroke-linecap="round"/><line x1="2351.7" y1="740.7" x2="2380.5" y2="740.7" stroke="#e9b12f" stroke-width="5.4" stroke-linecap="round"/><line x1="2404.9" y1="740.7" x2="2432.9" y2="740.7" stroke="#e9b12f" stroke-width="5.4" stroke-linecap="round"/><line x1="2457.8" y1="740.7" x2="2473.3" y2="740.7" stroke="#e9b12f" stroke-width="5.4" stroke-linecap="round"/>
<line x1="2237.6" y1="744.7" x2="2237.6" y2="775.1" stroke="#e9b12f" stroke-width="5.4" stroke-linecap="round"/><line x1="2237.6" y1="799.7" x2="2237.6" y2="826.9" stroke="#e9b12f" stroke-width="5.4" stroke-linecap="round"/><line x1="2237.6" y1="851.6" x2="2237.6" y2="878.8" stroke="#e9b12f" stroke-width="5.4" stroke-linecap="round"/><line x1="2237.6" y1="904.9" x2="2237.6" y2="932.1" stroke="#e9b12f" stroke-width="5.4" stroke-linecap="round"/><line x1="2237.6" y1="956.7" x2="2237.6" y2="976.3" stroke="#e9b12f" stroke-width="5.4" stroke-linecap="round"/>
<line x1="2474" y1="741.2" x2="2474" y2="753.3" stroke="#e9b12f" stroke-width="5.4" stroke-linecap="round"/><line x1="2474" y1="776" x2="2474" y2="804.7" stroke="#e9b12f" stroke-width="5.4" stroke-linecap="round"/><line x1="2474" y1="830.3" x2="2474" y2="858" stroke="#e9b12f" stroke-width="5.4" stroke-linecap="round"/><line x1="2474" y1="884.7" x2="2474" y2="912.9" stroke="#e9b12f" stroke-width="5.4" stroke-linecap="round"/><line x1="2474" y1="937.5" x2="2474" y2="964.7" stroke="#e9b12f" stroke-width="5.4" stroke-linecap="round"/>
<line x1="2238.7" y1="976.9" x2="2247.8" y2="976.9" stroke="#e9b12f" stroke-width="5.4" stroke-linecap="round"/><line x1="2272.9" y1="976.9" x2="2301" y2="976.9" stroke="#e9b12f" stroke-width="5.4" stroke-linecap="round"/><line x1="2326.6" y1="976.9" x2="2354.3" y2="976.9" stroke="#e9b12f" stroke-width="5.4" stroke-linecap="round"/><line x1="2379.9" y1="976.9" x2="2407.1" y2="976.9" stroke="#e9b12f" stroke-width="5.4" stroke-linecap="round"/><line x1="2432.3" y1="976.9" x2="2459.5" y2="976.9" stroke="#e9b12f" stroke-width="5.4" stroke-linecap="round"/>
<line x1="2183.8" y1="655.6" x2="2255" y2="655.6" stroke="#a8242f" stroke-width="7.6" stroke-linecap="round"/><line x1="2317" y1="655.6" x2="2414.2" y2="655.6" stroke="#a8242f" stroke-width="7.6" stroke-linecap="round"/><line x1="2476" y1="655.6" x2="2528.2" y2="655.6" stroke="#a8242f" stroke-width="7.6" stroke-linecap="round"/>
<line x1="2183.7" y1="655.8" x2="2183.7" y2="759.1" stroke="#a8242f" stroke-width="7.6" stroke-linecap="round"/><line x1="2183.7" y1="823.1" x2="2183.7" y2="918.6" stroke="#a8242f" stroke-width="7.6" stroke-linecap="round"/><line x1="2183.7" y1="982.8" x2="2183.7" y2="987.2" stroke="#a8242f" stroke-width="7.6" stroke-linecap="round"/>
<line x1="2528.3" y1="655.8" x2="2528.3" y2="699.9" stroke="#a8242f" stroke-width="7.6" stroke-linecap="round"/><line x1="2528.3" y1="763.6" x2="2528.3" y2="856.9" stroke="#a8242f" stroke-width="7.6" stroke-linecap="round"/><line x1="2528.3" y1="922.3" x2="2528.3" y2="987.2" stroke="#a8242f" stroke-width="7.6" stroke-linecap="round"/>
<line x1="2183.8" y1="987.3" x2="2274.7" y2="987.3" stroke="#a8242f" stroke-width="7.6" stroke-linecap="round"/><line x1="2337.1" y1="987.3" x2="2434.2" y2="987.3" stroke="#a8242f" stroke-width="7.6" stroke-linecap="round"/><line x1="2496.2" y1="987.3" x2="2528.2" y2="987.3" stroke="#a8242f" stroke-width="7.6" stroke-linecap="round"/>
<line x1="2098" y1="718.5" x2="2248.2" y2="780" stroke="#111" stroke-width="4" stroke-linecap="round"/>
<text x="1930" y="693.8" font-size="55.2" fill="#231f20" style="font-family:'Liberation Serif','Noto Serif CJK SC',serif">柔性结构</text>
</svg>
</body></html>
